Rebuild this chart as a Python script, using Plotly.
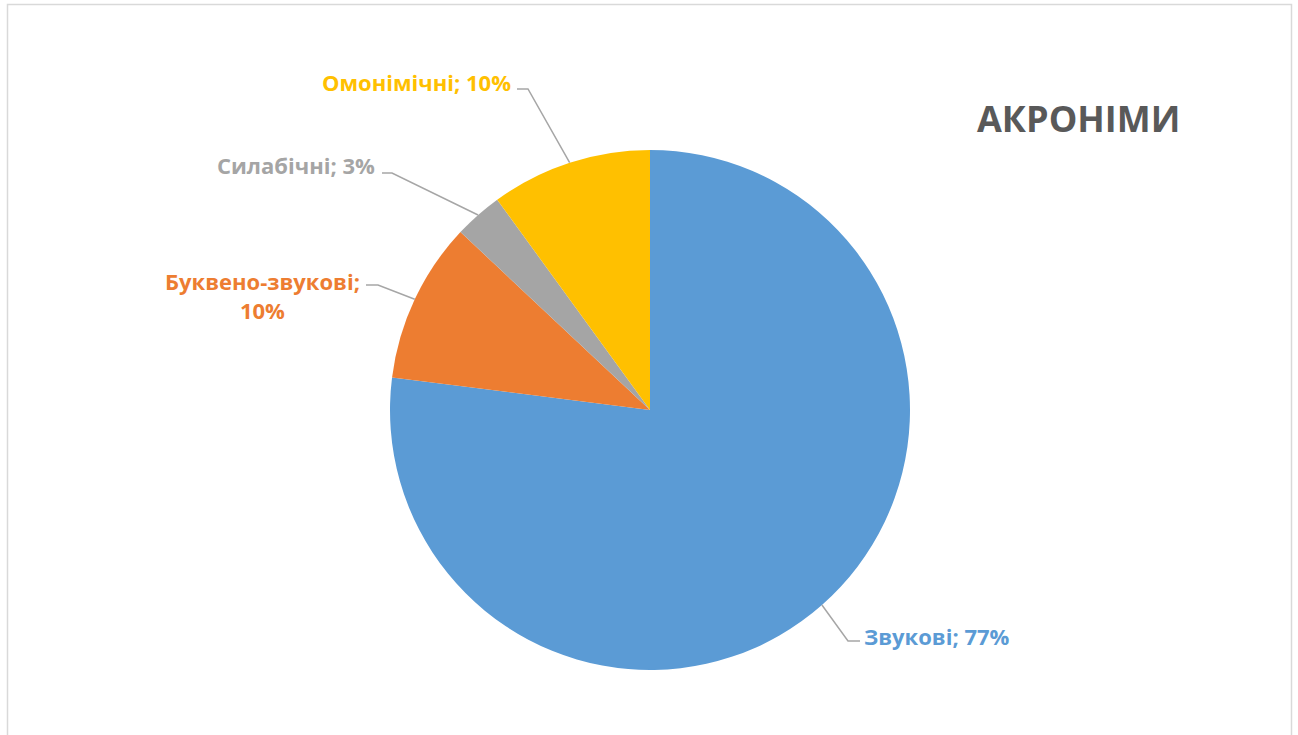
import math
import plotly.graph_objects as go

# Acronym types and their shares (%)
categories = ["Звукові", "Буквено-звукові", "Силабічні", "Омонімічні"]
shares = [77, 10, 3, 10]
label_texts = ["Звукові; 77%", "Буквено-звукові;<br>10%", "Силабічні; 3%", "Омонімічні; 10%"]
colors = ["#5B9BD5", "#ED7D31", "#A5A5A5", "#FFC000"]

W, H = 1298, 735
CX, CY, R = 650, 410, 260  # pie centre and radius in pixels


def px(x):
    return x / W


def py(y):
    return 1 - y / H


fig = go.Figure()
fig.add_trace(go.Pie(
    labels=categories,
    values=shares,
    sort=False,
    direction="clockwise",
    rotation=0,
    marker=dict(colors=colors, line=dict(width=0)),
    textinfo="none",
    hovertemplate="%{label}: %{percent}<extra></extra>",
    showlegend=False,
    domain=dict(x=[px(CX - R), px(CX + R)], y=[py(CY + R), py(CY - R)]),
))

# Label placement: text anchor point, anchor side, elbow point of the leader line
label_layout = [
    dict(x=862, y=636, xanchor="left", elbow=(848, 641), end=(860, 641)),
    dict(x=262, y=295, xanchor="center", elbow=(378, 285), end=(366, 285)),
    dict(x=377, y=165, xanchor="right", elbow=(392, 173), end=(382, 173)),
    dict(x=513, y=82, xanchor="right", elbow=(528, 89), end=(517, 89)),
]

total = sum(shares)
cum = 0
annotations = []
shapes = []
for cat, val, txt, col, lay in zip(categories, shares, label_texts, colors, label_layout):
    mid = (cum + val / 2) / total * 2 * math.pi
    cum += val
    sx = CX + R * math.sin(mid)
    sy = CY - R * math.cos(mid)
    ex, ey = lay["elbow"]
    tx, ty = lay["end"]
    shapes.append(dict(
        type="path", xref="paper", yref="paper",
        path=f"M {px(sx)},{py(sy)} L {px(ex)},{py(ey)} L {px(tx)},{py(ty)}",
        line=dict(color="#A6A6A6", width=1.5),
    ))
    annotations.append(dict(
        x=px(lay["x"]), y=py(lay["y"]), xref="paper", yref="paper",
        text=f"<b>{txt}</b>", showarrow=False, xanchor=lay["xanchor"], yanchor="middle",
        align="center", font=dict(family="Open Sans", size=22, color=col),
    ))

annotations.append(dict(
    x=px(1078), y=py(118), xref="paper", yref="paper",
    text="<b>АКРОНІМИ</b>", showarrow=False, xanchor="center", yanchor="middle",
    font=dict(family="Open Sans", size=36, color="#595959"),
))

# Chart area frame
shapes.append(dict(
    type="rect", xref="paper", yref="paper",
    x0=px(7.5), x1=px(1291.5), y0=py(745), y1=py(4.5),
    line=dict(color="#D9D9D9", width=1.5), fillcolor="rgba(0,0,0,0)",
    layer="below",
))

fig.update_layout(
    width=W, height=H,
    margin=dict(l=0, r=0, t=0, b=0),
    paper_bgcolor="white",
    plot_bgcolor="white",
    annotations=annotations,
    shapes=shapes,
)

fig.write_html("out.html")
